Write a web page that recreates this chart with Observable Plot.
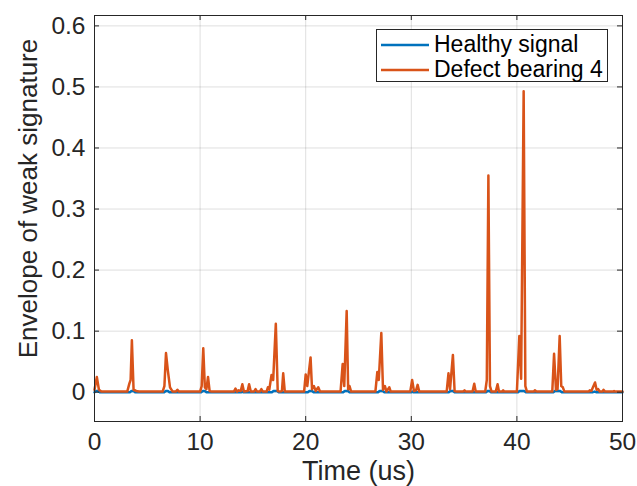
<!DOCTYPE html>
<html>
<head>
<meta charset="utf-8">
<script src="https://cdn.jsdelivr.net/npm/d3@7"></script>
<script src="https://cdn.jsdelivr.net/npm/@observablehq/plot@0.6"></script>
<style>
  html, body { margin: 0; padding: 0; background: white; }
  #wrap { position: relative; width: 637px; height: 486px; font-family: "Liberation Sans", Arial, Helvetica, sans-serif; }
  #legend { position: absolute; left: 376px; top: 29px; width: 232px; height: 53px; border: 1px solid #262626; background: white; box-sizing: border-box; }
  .row { position: absolute; left: 0; height: 25px; display: flex; align-items: center; }
  .row svg { margin-left: 4px; }
  .row span { margin-left: 5px; font-size: 23px; color: #000; line-height: 25px; white-space: nowrap; }
</style>
</head>
<body>
<div id="wrap"></div>
<script>
// ---- data ----
const xTicks = [0, 10, 20, 30, 40, 50];
const yTicks = [0, 0.1, 0.2, 0.3, 0.4, 0.5, 0.6];
const seriesNames = ["Healthy signal", "Defect bearing 4"];
const seriesColors = ["#0072BD", "#D95319"];

// Healthy signal (time in us, envelope value)
const healthyT = [0, 0.1, 0.35, 0.5, 3.35, 3.5, 3.7, 3.85, 6.6, 6.75, 6.95, 7.1, 10.1, 10.25, 10.45, 10.6,
  13.9, 14.0, 14.1, 16.8, 16.95, 17.3, 17.45, 20.2, 20.35, 20.6, 20.75, 23.55, 23.7, 24.0, 24.15,
  26.85, 27.0, 27.3, 27.45, 30.0, 30.1, 30.2, 33.55, 33.7, 33.95, 34.1, 37.1, 37.2, 37.4, 37.55,
  40.1, 40.25, 40.7, 40.85, 43.45, 43.6, 44.1, 44.25, 47.2, 47.35, 47.5, 50];
const healthyV = [0, 0.002, 0.002, 0, 0, 0.002, 0.002, 0, 0, 0.002, 0.002, 0, 0, 0.002, 0.002, 0,
  0, 0.001, 0, 0, 0.002, 0.002, 0, 0, 0.002, 0.002, 0, 0, 0.002, 0.002, 0,
  0, 0.002, 0.002, 0, 0, 0.001, 0, 0, 0.002, 0.002, 0, 0, 0.002, 0.002, 0,
  0, 0.002, 0.002, 0, 0, 0.002, 0.002, 0, 0, 0.001, 0, 0];

// Defect bearing 4 (time in us, envelope value)
const defectT = [0, 0.22, 0.42, 0.65, 3.1, 3.3, 3.42, 3.54, 3.7, 3.95, 4.2,
  6.45, 6.62, 6.77, 6.95, 7.15, 7.4, 7.7, 7.85, 8.0,
  10.0, 10.15, 10.3, 10.45, 10.6, 10.75, 10.9, 11.1,
  13.2, 13.35, 13.5, 13.66, 13.85, 14.0, 14.15, 14.5, 14.64, 14.8, 15.1, 15.25, 15.4, 15.65, 15.8, 15.95,
  16.3, 16.42, 16.55, 16.76, 16.92, 17.17, 17.35, 17.55, 17.75, 17.87, 18.02,
  19.85, 20.0, 20.15, 20.46, 20.6, 20.78, 20.95, 21.19, 21.35,
  23.3, 23.5, 23.65, 23.88, 24.02, 24.15, 24.3,
  26.6, 26.78, 26.92, 27.16, 27.32, 27.5, 27.65, 27.92, 28.05,
  29.9, 30.08, 30.25, 30.45, 30.6, 30.75,
  33.35, 33.52, 33.67, 33.94, 34.1, 34.3, 34.9, 35.04, 35.15, 35.8, 35.96, 36.1,
  37.0, 37.15, 37.3, 37.45, 37.6, 38.0, 38.17, 38.3, 38.6, 38.7, 38.8,
  40.0, 40.23, 40.4, 40.64, 40.8, 40.95, 41.6, 41.7, 41.85,
  43.35, 43.52, 43.7, 43.85, 44.05, 44.2, 44.35, 44.5,
  46.8, 46.9, 47.05, 47.4, 47.55, 47.7, 47.85, 48.1, 48.2, 48.35, 49.1, 49.2, 49.3, 50];
const defectV = [0.004, 0.025, 0.004, 0.001, 0.001, 0.014, 0.02, 0.085, 0.004, 0.002, 0.001,
  0.001, 0.01, 0.064, 0.035, 0.008, 0.001, 0.001, 0.004, 0.001,
  0.001, 0.01, 0.072, 0.008, 0.005, 0.025, 0.002, 0.001,
  0.001, 0.006, 0.001, 0.003, 0.002, 0.013, 0.001, 0.002, 0.013, 0.001, 0.001, 0.005, 0.001, 0.001, 0.005, 0.001,
  0.001, 0.008, 0.004, 0.028, 0.02, 0.112, 0.002, 0.001, 0.002, 0.031, 0.001,
  0.001, 0.029, 0.01, 0.057, 0.005, 0.01, 0.002, 0.008, 0.001,
  0.001, 0.046, 0.01, 0.133, 0.005, 0.01, 0.001,
  0.001, 0.033, 0.02, 0.097, 0.004, 0.01, 0.001, 0.008, 0.001,
  0.001, 0.02, 0.002, 0.003, 0.012, 0.001,
  0.001, 0.031, 0.005, 0.061, 0.002, 0.001, 0.001, 0.003, 0.001, 0.001, 0.014, 0.001,
  0.001, 0.02, 0.355, 0.01, 0.001, 0.001, 0.013, 0.001, 0.001, 0.003, 0.001,
  0.001, 0.092, 0.022, 0.493, 0.01, 0.001, 0.001, 0.003, 0.001,
  0.001, 0.063, 0.004, 0.005, 0.092, 0.01, 0.008, 0.001,
  0.001, 0.003, 0.002, 0.016, 0.004, 0.005, 0.001, 0.001, 0.004, 0.001, 0.001, 0.002, 0.001, 0.001];

// ---- build ----
const healthy = healthyT.map((t, i) => ({t, v: healthyV[i]}));
const defect = defectT.map((t, i) => ({t, v: defectV[i]}));

const W = 637, H = 486;
const mL = 94, mR = 15, mT = 15, mB = 65;
const frameW = W - mL - mR, frameH = H - mT - mB;
const tickLen = 5;
const axisColor = "#262626";

const chart = Plot.plot({
  width: W, height: H,
  marginLeft: mL, marginRight: mR, marginTop: mT, marginBottom: mB,
  x: {domain: [0, 50]},
  y: {domain: [-0.048, 0.617]},
  style: {fontFamily: '"Liberation Sans", Arial, Helvetica, sans-serif', background: "white", color: axisColor, overflow: "visible"},
  marks: [
    Plot.gridX(xTicks, {stroke: axisColor, strokeOpacity: 0.15, strokeWidth: 1}),
    Plot.gridY(yTicks, {stroke: axisColor, strokeOpacity: 0.15, strokeWidth: 1}),
    Plot.line(healthy, {x: "t", y: "v", stroke: seriesColors[0], strokeWidth: 2.5}),
    Plot.line(defect, {x: "t", y: "v", stroke: seriesColors[1], strokeWidth: 2.5}),
    Plot.ruleX(xTicks, {x: d => d, insetTop: frameH - tickLen, stroke: axisColor}),
    Plot.ruleX(xTicks, {x: d => d, insetBottom: frameH - tickLen, stroke: axisColor}),
    Plot.ruleY(yTicks, {y: d => d, insetRight: frameW - tickLen, stroke: axisColor}),
    Plot.ruleY(yTicks, {y: d => d, insetLeft: frameW - tickLen, stroke: axisColor}),
    Plot.frame({stroke: axisColor, strokeWidth: 1}),
    Plot.axisX(xTicks, {tickSize: 0, tickPadding: 11, fontSize: 24.5, label: null, tickFormat: d => String(d), fill: axisColor}),
    Plot.axisY(yTicks, {tickSize: 0, tickPadding: 9, fontSize: 24.5, label: null, tickFormat: d => String(d), fill: axisColor}),
    Plot.text(["Time (us)"], {text: d => d, frameAnchor: "bottom", lineAnchor: "middle", textAnchor: "middle", dy: 50, fontSize: 27, fill: axisColor}),
    Plot.text(["Envelope of weak signature"], {text: d => d, frameAnchor: "left", textAnchor: "middle", lineAnchor: "middle", rotate: -90, dx: -66, dy: -20, fontSize: 26, fill: axisColor})
  ]
});

const wrap = document.getElementById("wrap");
wrap.appendChild(chart);

// legend (HTML, built from the series arrays)
const legend = document.createElement("div");
legend.id = "legend";
seriesNames.forEach((name, i) => {
  const row = document.createElement("div");
  row.className = "row";
  row.style.top = (2 + i * 25) + "px";
  row.innerHTML = `<svg width="48" height="6"><line x1="0" x2="48" y1="3" y2="3" stroke="${seriesColors[i]}" stroke-width="2.5"/></svg><span>${name}</span>`;
  legend.appendChild(row);
});
wrap.appendChild(legend);
</script>
</body>
</html>
